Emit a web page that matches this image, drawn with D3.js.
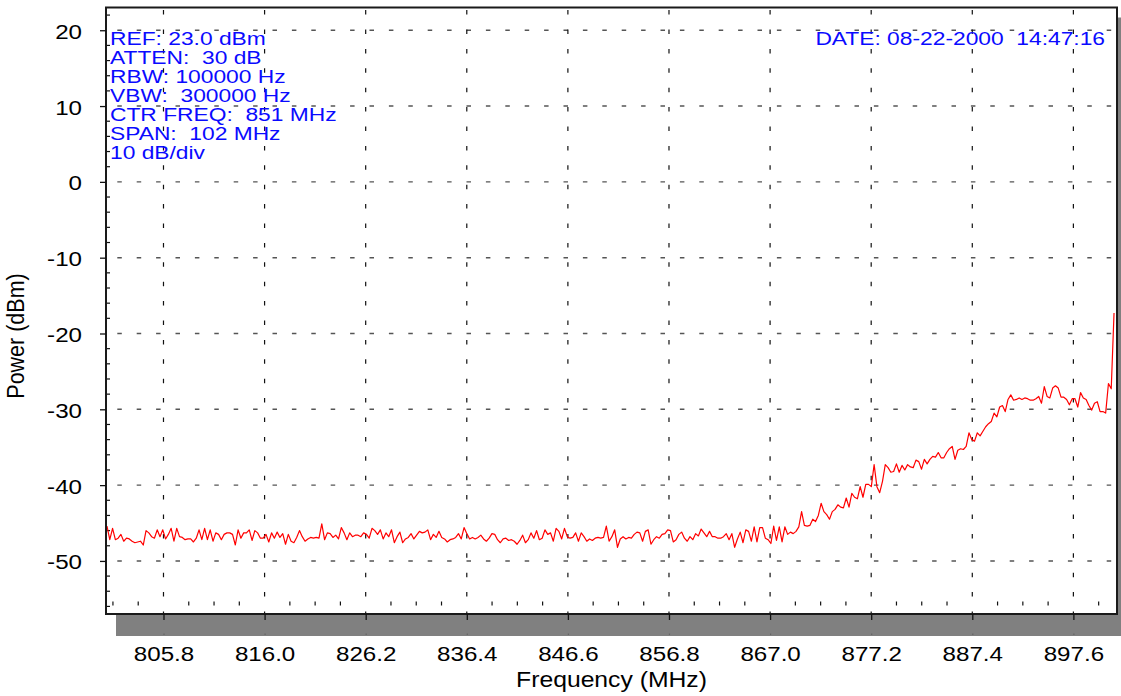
<!DOCTYPE html>
<html><head><meta charset="utf-8">
<script src="https://cdn.jsdelivr.net/npm/d3@7"></script>
<style>body{margin:0;background:#fff}svg{display:block}</style>
</head><body>
<svg id="c" width="1121" height="696"></svg>
<script>
// ---------- data ----------
const axisStart = 800, axisStop = 902;          // MHz (CTR 851, SPAN 102)
const refLevel = 23, bottomLevel = -57;        // dBm
const traceStart = 800.1, traceStop = 901.7;   // MHz, first/last sweep point
const powerDbm = [
-45.4,-47.2,-45.7,-47.2,-47.0,-46.5,-47.4,-47.0,-47.1,-47.4,
-47.6,-47.5,-47.4,-47.9,-46.0,-46.3,-46.8,-47.0,-45.9,-46.8,
-45.9,-47.1,-46.5,-45.7,-47.4,-45.7,-46.8,-46.9,-47.2,-47.1,
-47.1,-47.5,-47.0,-45.9,-47.2,-45.7,-47.2,-45.9,-47.4,-46.3,
-46.5,-47.2,-46.5,-46.3,-46.3,-46.5,-47.9,-45.9,-47.0,-46.3,
-46.3,-45.9,-47.3,-46.0,-46.3,-47.0,-47.0,-46.5,-47.5,-46.3,
-47.0,-46.2,-46.9,-46.4,-47.8,-46.5,-47.4,-47.6,-46.9,-46.0,
-46.8,-47.4,-47.1,-46.9,-47.0,-46.9,-47.0,-45.1,-47.2,-46.3,
-46.4,-46.9,-46.6,-47.1,-45.6,-46.3,-47.2,-46.3,-46.8,-46.6,
-46.6,-46.8,-46.3,-46.5,-47.0,-45.7,-46.0,-46.5,-45.9,-47.1,
-46.3,-46.8,-45.9,-47.6,-46.8,-46.2,-47.6,-47.1,-46.9,-46.4,
-47.1,-46.6,-46.1,-46.3,-46.2,-45.9,-47.2,-46.5,-46.9,-46.1,
-46.9,-47.1,-47.5,-47.2,-47.1,-46.9,-46.4,-47.1,-45.6,-46.4,
-47.1,-46.9,-47.1,-46.9,-46.6,-47.1,-47.4,-47.0,-46.4,-46.5,
-47.2,-47.6,-47.1,-47.0,-47.3,-47.2,-47.4,-47.8,-47.3,-46.6,
-47.6,-47.2,-46.3,-47.0,-46.0,-47.2,-47.0,-45.9,-46.5,-46.3,
-47.4,-45.7,-46.1,-47.1,-45.7,-46.8,-47.0,-46.9,-46.3,-47.4,
-46.3,-46.8,-47.4,-47.1,-47.3,-47.0,-46.9,-47.0,-46.9,-45.4,
-47.4,-46.8,-45.9,-48.2,-47.1,-46.8,-47.1,-46.9,
-47.0,-46.5,-46.2,-46.3,-47.4,-46.1,-45.9,-47.8,-47.2,-46.8,
-47.0,-46.5,-46.4,-45.9,-46.0,-47.5,-47.2,-46.5,-46.2,-47.0,
-47.4,-46.8,-47.2,-46.4,-46.7,-45.8,-46.3,-46.8,-46.1,-46.8,
-46.8,-47.0,-47.0,-46.8,-46.4,-47.2,-46.4,-48.2,-47.1,-46.2,
-47.6,-45.9,-46.1,-47.4,-45.5,-47.5,-45.6,-45.6,-47.0,-47.2,
-47.7,-45.4,-47.3,-45.5,-47.5,-45.5,-46.5,-46.2,-46.4,-46.1,
-45.5,-43.5,-45.3,-45.4,-45.3,-44.5,-44.8,-44.0,-42.4,-43.5,
-43.9,-44.5,-43.5,-43.2,-42.6,-42.9,-43.0,-41.7,-42.9,-41.1,
-41.6,-41.8,-40.2,-41.6,-39.9,-39.9,-40.2,
-37.3,-40.2,-41.0,-39.5,-37.3,-37.7,-38.3,-38.2,-37.2,-38.3,
-37.4,-38.0,-37.3,-37.6,-37.7,-36.7,-36.9,-37.9,-36.6,-37.2,
-36.6,-36.2,-36.3,-35.7,-36.4,-36.4,-35.7,-35.2,-34.9,-36.6,
-35.4,-35.2,-35.3,-34.9,-33.1,-34.0,-34.2,-33.1,-33.5,-32.9,
-32.3,-31.9,-31.6,-30.5,-31.0,-29.7,-29.5,-30.3,-28.7,-28.1,
-28.8,-28.7,-28.5,-28.7,-28.5,-28.6,-28.8,-28.8,-28.6,-28.3,
-29.2,-27.0,-28.3,-28.5,-27.2,-26.9,-27.2,-28.4,-28.4,-28.7,
-29.4,-28.6,-28.6,-29.7,-27.8,-28.5,-28.7,-29.5,-30.1,-29.2,
-29.0,-30.3,-30.3,-30.5,-26.6,-27.3,-17.3
];
const yTicks = [20, 10, 0, -10, -20, -30, -40, -50];
const yTickLabels = ["20", "10", "0", "-10", "-20", "-30", "-40", "-50"];
const xTicks = [805.8, 816.0, 826.2, 836.4, 846.6, 856.8, 867.0, 877.2, 887.4, 897.6];
const xTickLabels = ["805.8", "816.0", "826.2", "836.4", "846.6", "856.8", "867.0", "877.2", "887.4", "897.6"];
const yMinorStep = 2;        // dB
const xMinorStep = 2.55;     // MHz
const infoLines = ["REF: 23.0 dBm", "ATTEN:  30 dB", "RBW: 100000 Hz", "VBW:  300000 Hz",
                   "CTR FREQ:  851 MHz", "SPAN:  102 MHz", "10 dB/div"];
const dateLabel = "DATE: 08-22-2000  14:47:16";
const xTitle = "Frequency (MHz)";
const yTitle = "Power (dBm)";

// ---------- layout ----------
const L = 106, T = 7.5, R = 1117, B = 614;
const SX = 1.15;   // horizontal text stretch of the original
const SXI = 1.2;   // stretch of the blue annotation text
const FONT = "'Liberation Sans', Arial, Helvetica, sans-serif";
const svg = d3.select("#c");

const x = d3.scaleLinear().domain([axisStart, axisStop]).range([L, R]);
const y = d3.scaleLinear().domain([bottomLevel, refLevel]).range([B, T]);

// shadow + frame background
svg.append("rect").attr("x", L + 10).attr("y", T + 10).attr("width", R - L + 4).attr("height", B - T + 12)
  .attr("fill", "#808080");
svg.append("rect").attr("x", L).attr("y", T).attr("width", R - L).attr("height", B - T)
  .attr("fill", "#fff");

// grid
svg.append("g").selectAll("line").data(yTicks).join("line")
  .attr("x1", L).attr("x2", R).attr("y1", d => y(d)).attr("y2", d => y(d))
  .attr("stroke", "#555").attr("stroke-width", 1.4)
  .attr("stroke-dasharray", "4.5,14.9").attr("stroke-dashoffset", 8.1);
svg.append("g").selectAll("line").data(xTicks).join("line")
  .attr("x1", d => x(d)).attr("x2", d => x(d)).attr("y1", T).attr("y2", B)
  .attr("stroke", "#111").attr("stroke-width", 1.2)
  .attr("stroke-dasharray", "4.5,14.9").attr("stroke-dashoffset", 16.8);

// minor ticks
const yMinor = d3.range(-56, refLevel, yMinorStep).filter(v => v % 10 !== 0);
svg.append("g").selectAll("line").data(yMinor).join("line")
  .attr("x1", L).attr("x2", L + 4).attr("y1", d => y(d)).attr("y2", d => y(d))
  .attr("stroke", "#111").attr("stroke-width", 1.2);
const xMinor = d3.range(-2, 38).filter(k => k % 4 !== 0).map(k => xTicks[0] + k * xMinorStep)
  .filter(f => f > axisStart && f < axisStop);
svg.append("g").selectAll("line").data(xMinor).join("line")
  .attr("x1", d => x(d)).attr("x2", d => x(d)).attr("y1", B - 12.5).attr("y2", B - 8.5)
  .attr("stroke", "#111").attr("stroke-width", 1.2);

// trace
const n = powerDbm.length;
const freqs = powerDbm.map((_, i) => traceStart + i * (traceStop - traceStart) / (n - 1));
svg.append("clipPath").attr("id", "clip").append("rect")
  .attr("x", L).attr("y", T).attr("width", R - L).attr("height", B - T);
svg.append("path").datum(powerDbm)
  .attr("clip-path", "url(#clip)")
  .attr("fill", "none").attr("stroke", "#ff0000").attr("stroke-width", 1.2)
  .attr("stroke-linejoin", "round")
  .attr("d", d3.line().x((d, i) => x(freqs[i])).y(d => y(d)));

// frame
svg.append("rect").attr("x", L).attr("y", T).attr("width", R - L).attr("height", B - T)
  .attr("fill", "none").attr("stroke", "#1a1a1a").attr("stroke-width", 2);

// axes
const yAxis = svg.append("g").attr("transform", `translate(${L},0)`)
  .call(d3.axisLeft(y).tickValues(yTicks).tickSize(6).tickFormat((d, i) => yTickLabels[i]));
const xAxis = svg.append("g").attr("transform", `translate(0,${B})`)
  .call(d3.axisBottom(x).tickValues(xTicks).tickSize(6).tickFormat((d, i) => xTickLabels[i]));
[yAxis, xAxis].forEach(g => {
  g.select(".domain").remove();
  g.selectAll(".tick line").attr("stroke", "#111").attr("stroke-width", 1.3);
  g.selectAll("text").attr("fill", "#000").style("font-family", FONT).style("font-size", "21px")
    .attr("x", 0).attr("y", 0).attr("dy", null);
});
yAxis.selectAll("text").attr("text-anchor", "end").attr("transform", `translate(-24,8) scale(${SX},1)`);
xAxis.selectAll("text").attr("text-anchor", "middle").attr("transform", `translate(0,47) scale(${SX},1)`);
xAxis.selectAll(".tick").append("line").attr("y1", 19.5).attr("y2", 21).attr("stroke", "#666").attr("stroke-width", 1.2);

// axis titles
svg.append("text").text(xTitle)
  .attr("transform", `translate(${(L + R) / 2},687) scale(${SX},1)`)
  .attr("text-anchor", "middle").style("font-family", FONT).style("font-size", "21.5px").attr("fill", "#000");
svg.append("text").text(yTitle)
  .attr("transform", `translate(24,336) rotate(-90) scale(1,${SX})`)
  .attr("text-anchor", "middle").style("font-family", FONT).style("font-size", "21.5px").attr("fill", "#000");

// instrument annotations
svg.append("g").selectAll("text").data(infoLines).join("text")
  .text(d => d)
  .attr("transform", (d, i) => `translate(110,${45 + i * 19.05}) scale(${SXI},1)`)
  .style("white-space", "pre").style("font-family", FONT).style("font-size", "19px")
  .attr("fill", "#0a0aff");
svg.append("text").text(dateLabel)
  .attr("transform", `translate(1105,45) scale(${SXI},1)`)
  .attr("text-anchor", "end")
  .style("white-space", "pre").style("font-family", FONT).style("font-size", "19px")
  .attr("fill", "#0a0aff");
</script>
</body></html>
